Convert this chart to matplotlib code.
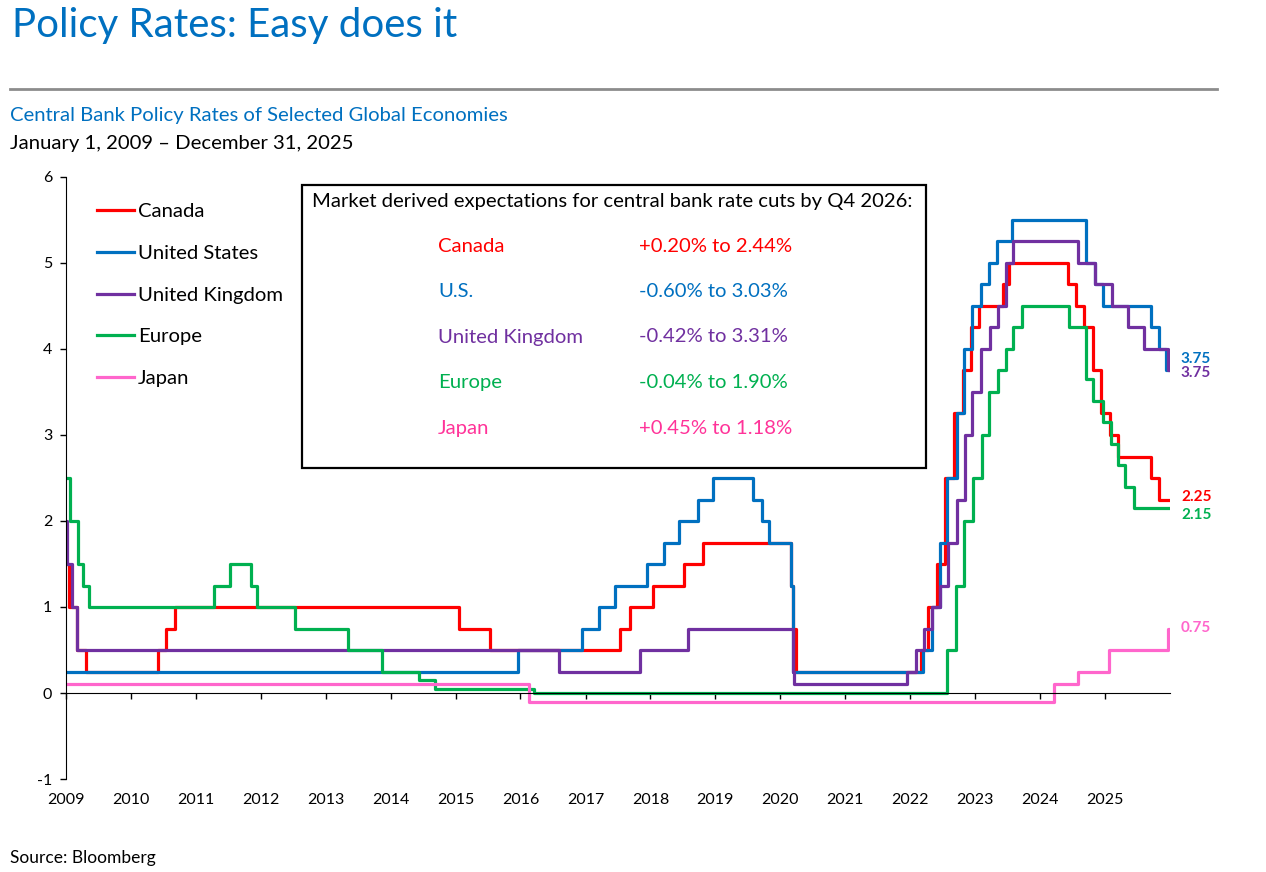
"""Central bank policy rates of selected economies, 2009-2025."""

from matplotlib import pyplot as plt
from matplotlib.patches import Rectangle
import matplotlib.dates as mdates
import numpy as np

plt.rcParams['font.family'] = ['Lato', 'DejaVu Sans']
plt.rcParams['axes.unicode_minus'] = False

# rate change dates and the new policy rate (%) from that date on
canada_dates = ["2009-01-01", "2009-01-20", "2009-03-03", "2009-04-21", "2010-06-01",
                "2010-07-20", "2010-09-08", "2015-01-21", "2015-07-15", "2017-07-12",
                "2017-09-06", "2018-01-17", "2018-07-11", "2018-10-24", "2020-03-04",
                "2020-03-13", "2020-03-27", "2022-03-02", "2022-04-13", "2022-06-01",
                "2022-07-13", "2022-09-07", "2022-10-26", "2022-12-07", "2023-01-25",
                "2023-06-07", "2023-07-12", "2024-06-05", "2024-07-24", "2024-09-04",
                "2024-10-23", "2024-12-11", "2025-01-29", "2025-03-12", "2025-09-17",
                "2025-10-29"]
canada_rates = [1.50, 1.00, 0.50, 0.25, 0.50, 0.75, 1.00, 0.75, 0.50, 0.75,
                1.00, 1.25, 1.50, 1.75, 1.25, 0.75, 0.25, 0.50, 1.00, 1.50,
                2.50, 3.25, 3.75, 4.25, 4.50, 4.75, 5.00, 4.75, 4.50, 4.25,
                3.75, 3.25, 3.00, 2.75, 2.50, 2.25]

us_dates = ["2009-01-01", "2015-12-16", "2016-12-14", "2017-03-15", "2017-06-14",
            "2017-12-13", "2018-03-21", "2018-06-13", "2018-09-26", "2018-12-19",
            "2019-07-31", "2019-09-18", "2019-10-30", "2020-03-03", "2020-03-15",
            "2022-03-16", "2022-05-04", "2022-06-15", "2022-07-27", "2022-09-21",
            "2022-11-02", "2022-12-14", "2023-02-01", "2023-03-22", "2023-05-03",
            "2023-07-26", "2024-09-18", "2024-11-07", "2024-12-18", "2025-09-17",
            "2025-10-29", "2025-12-10"]
us_rates = [0.25, 0.50, 0.75, 1.00, 1.25, 1.50, 1.75, 2.00, 2.25, 2.50,
            2.25, 2.00, 1.75, 1.25, 0.25, 0.50, 1.00, 1.75, 2.50, 3.25,
            4.00, 4.50, 4.75, 5.00, 5.25, 5.50, 5.00, 4.75, 4.50, 4.25,
            4.00, 3.75]

uk_dates = ["2009-01-01", "2009-01-08", "2009-02-05", "2009-03-05", "2016-08-04",
            "2017-11-02", "2018-08-02", "2020-03-11", "2020-03-19", "2021-12-16",
            "2022-02-03", "2022-03-17", "2022-05-05", "2022-06-16", "2022-08-04",
            "2022-09-22", "2022-11-03", "2022-12-15", "2023-02-02", "2023-03-23",
            "2023-05-11", "2023-06-22", "2023-08-03", "2024-08-01", "2024-11-07",
            "2025-02-06", "2025-05-08", "2025-08-07", "2025-12-18"]
uk_rates = [2.00, 1.50, 1.00, 0.50, 0.25, 0.50, 0.75, 0.25, 0.10, 0.25,
            0.50, 0.75, 1.00, 1.25, 1.75, 2.25, 3.00, 3.50, 4.00, 4.25,
            4.50, 5.00, 5.25, 5.00, 4.75, 4.50, 4.25, 4.00, 3.75]

eu_dates = ["2009-01-01", "2009-01-21", "2009-03-11", "2009-04-08", "2009-05-13",
            "2011-04-13", "2011-07-13", "2011-11-09", "2011-12-14", "2012-07-11",
            "2013-05-08", "2013-11-13", "2014-06-11", "2014-09-10", "2016-03-16",
            "2022-07-27", "2022-09-14", "2022-11-02", "2022-12-21", "2023-02-08",
            "2023-03-22", "2023-05-10", "2023-06-21", "2023-08-02", "2023-09-20",
            "2024-06-12", "2024-09-18", "2024-10-23", "2024-12-18", "2025-02-05",
            "2025-03-12", "2025-04-23", "2025-06-11"]
eu_rates = [2.50, 2.00, 1.50, 1.25, 1.00, 1.25, 1.50, 1.25, 1.00, 0.75,
            0.50, 0.25, 0.15, 0.05, 0.00, 0.50, 1.25, 2.00, 2.50, 3.00,
            3.50, 3.75, 4.00, 4.25, 4.50, 4.25, 3.65, 3.40, 3.15, 2.90,
            2.65, 2.40, 2.15]

jp_dates = ["2009-01-01", "2016-02-16", "2024-03-19", "2024-07-31", "2025-01-24",
            "2025-12-19"]
jp_rates = [0.10, -0.10, 0.10, 0.25, 0.50, 0.75]

end_date = "2025-12-31"

series_names = ["Canada", "United States", "United Kingdom", "Europe", "Japan"]
series_dates = [canada_dates, us_dates, uk_dates, eu_dates, jp_dates]
series_rates = [canada_rates, us_rates, uk_rates, eu_rates, jp_rates]
colors = ["#FF0000", "#0070C0", "#7030A0", "#00B050", "#FF66CC"]
# vertical nudge (points) of end labels so the two 3.75 labels don't collide
label_nudge = [2, 8, -2, -5, 0]

# text box with market expectations
box_names = ["Canada", "U.S.", "United Kingdom", "Europe", "Japan"]
box_ranges = ["+0.20% to 2.44%", "-0.60% to 3.03%", "-0.42% to 3.31%",
              "-0.04% to 1.90%", "+0.45% to 1.18%"]
box_colors = ["#FF0000", "#0070C0", "#7030A0", "#00B050", "#FF3399"]

W, H = 1266, 872
FS = 14.6


def fx(x):
    return x / W


def fy(y):
    return 1 - y / H


fig = plt.figure(figsize=(W / 100, H / 100), dpi=100)
ax = fig.add_axes([fx(66), fy(779), (1170 - 66) / W, (779 - 177) / H])

for name, dates, rates, color, nudge in zip(series_names, series_dates,
                                             series_rates, colors, label_nudge):
    x = np.array(dates + [end_date], dtype="datetime64[D]")
    y = np.array(rates + [rates[-1]])
    ax.step(x, y, where="post", color=color, lw=2.3, label=name)
    ax.annotate(f"{rates[-1]:.2f}", xy=(x[-1], y[-1]), xytext=(8, nudge),
                textcoords="offset points", va="center", ha="left",
                color=color, fontsize=11, fontweight="bold")

ax.set_xlim(np.datetime64("2009-01-01"), np.datetime64("2026-01-01"))
ax.set_ylim(-1, 6)
ax.set_yticks(range(-1, 7))
ax.xaxis.set_major_locator(mdates.YearLocator())
ax.xaxis.set_major_formatter(mdates.DateFormatter("%Y"))
ax.set_xticks(ax.get_xticks()[:-1])

ax.spines["top"].set_visible(False)
ax.spines["right"].set_visible(False)
ax.spines["bottom"].set_position(("data", 0))
ax.tick_params(axis="x", direction="out", length=4, width=1, pad=68, labelsize=11.5)
ax.tick_params(axis="y", direction="out", length=4, width=1, pad=6, labelsize=11.5)

ax.legend(loc="upper left", bbox_to_anchor=(fx(97), fy(203)),
          bbox_transform=fig.transFigure, frameon=False, fontsize=FS,
          handlelength=1.82, handletextpad=0.2, labelspacing=1.21,
          borderpad=0, borderaxespad=0)

# expectations box
fig.add_artist(Rectangle((fx(302), fy(468)), (926 - 302) / W, (468 - 185) / H,
                         transform=fig.transFigure, fill=False, ec="black", lw=1.6))
fig.text(fx(312), fy(201), "Market derived expectations for central bank rate cuts by Q4 2026:",
         fontsize=FS, va="center", ha="left")
for i, (nm, rng, col) in enumerate(zip(box_names, box_ranges, box_colors)):
    yy = 246 + i * 45.5
    fig.text(fx(438), fy(yy), nm, color=col, fontsize=FS, va="center", ha="left")
    fig.text(fx(639), fy(yy), rng, color=col, fontsize=FS, va="center", ha="left")

# header
fig.text(fx(12), fy(25), "Policy Rates: Easy does it", color="#0070C0",
         fontsize=29, va="center", ha="left")
fig.add_artist(plt.Line2D([fx(10), fx(1217)], [fy(89), fy(89)],
                          transform=fig.transFigure, color="#8C8C8C", lw=2))
fig.text(fx(10), fy(115), "Central Bank Policy Rates of Selected Global Economies",
         color="#0070C0", fontsize=FS, va="center", ha="left")
fig.text(fx(10), fy(143), "January 1, 2009 \u2013 December 31, 2025",
         color="black", fontsize=FS, va="center", ha="left")
fig.text(fx(10), fy(858), "Source: Bloomberg", color="black", fontsize=12.5,
         va="center", ha="left")

fig.savefig("out.png", dpi=100)
